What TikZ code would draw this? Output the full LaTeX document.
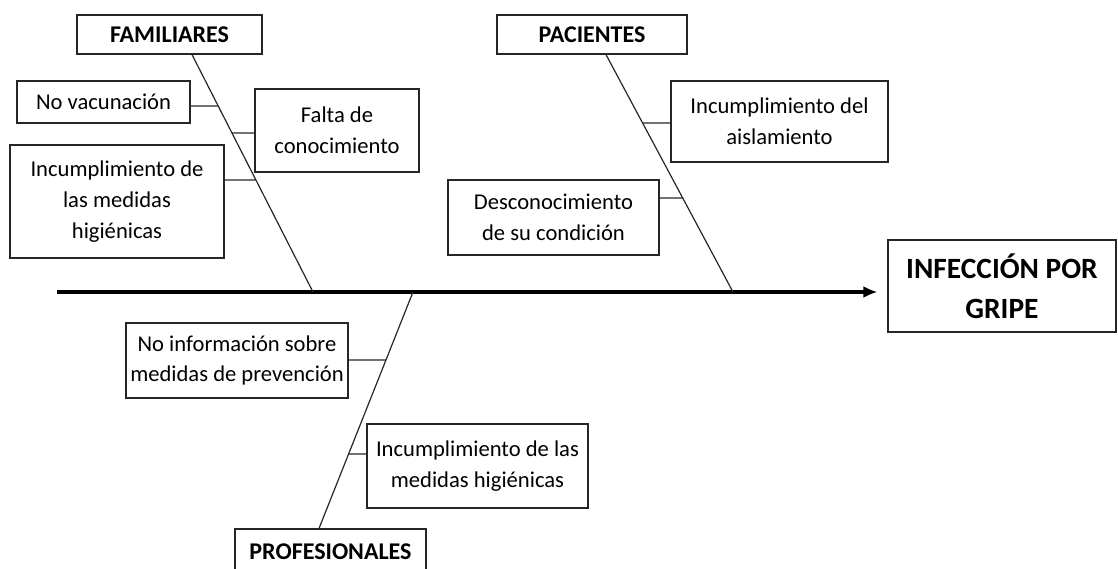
\documentclass[tikz,border=0pt]{standalone}
\usepackage{fontspec}
\setmainfont{Carlito}
\usetikzlibrary{arrows.meta}
\begin{document}
\begin{tikzpicture}[x=0.5pt,y=-0.5pt,
  box/.style={draw=black!85, line width=0.6pt, rectangle, inner sep=0pt, align=center,
    font=\fontsize{11.3}{15.3}\selectfont},
  head/.style={box, font=\bfseries\fontsize{12}{15}\selectfont},
  bone/.style={line width=0.6pt, draw=black!85},
  spine/.style={line width=1.6pt, -{Latex[length=7pt,width=6pt]}}]
\clip (0,0) rectangle (1118,568);
% heads
\node[head, minimum width=92.5pt, minimum height=19.5pt] (fam) at (169.5,34.5) {FAMILIARES};
\node[head, minimum width=95pt, minimum height=19.5pt] (pac) at (592,34.5) {PACIENTES};
\node[head, minimum width=95.5pt, minimum height=23pt] (prof) at (330.5,552) {PROFESIONALES};
\node[box, minimum width=114pt, minimum height=46pt,
  font=\bfseries\fontsize{14.7}{20}\selectfont] (inf) at (1002,286) {INFECCIÓN POR\\GRIPE};
% causes
\node[box, minimum width=86.5pt, minimum height=21pt] (novac) at (103.5,102) {No vacunación};
\node[box, minimum width=82pt, minimum height=41.5pt] (falta) at (337,130.5) {Falta de\\conocimiento};
\node[box, minimum width=107pt, minimum height=56.5pt] (incfam) at (117,201.5) {Incumplimiento de\\las medidas\\higiénicas};
\node[box, minimum width=108.5pt, minimum height=40.5pt] (aisl) at (779.5,121.5) {Incumplimiento del\\aislamiento};
\node[box, minimum width=105.5pt, minimum height=37.5pt] (desc) at (553.5,217.5) {Desconocimiento\\de su condición};
\node[box, minimum width=111pt, minimum height=37.5pt] (noinf) at (237,360.5) {No información sobre\\medidas de prevención};
\node[box, minimum width=110.5pt, minimum height=42pt] (incprof) at (477.5,466) {Incumplimiento de las\\medidas higiénicas};
% spine
\coordinate (tail) at (57,292);
\draw[spine, shorten >=5pt] (tail) -- (tail -| inf.west);
% bones
\coordinate (jf) at (313,292);
\coordinate (jp) at (733,292);
\coordinate (jr) at (413,292);
\coordinate (ft) at ([xshift=11.25pt]fam.south);
\coordinate (pt) at ([xshift=7pt]pac.south);
\coordinate (rt) at ([xshift=-5.75pt]prof.north);
\draw[bone] (ft) -- (jf);
\draw[bone] (pt) -- (jp);
\draw[bone] (rt) -- (jr);
% branches
\draw[bone] (novac.east |- 0,106) -- (intersection of ft--jf and 0,106--10,106);
\draw[bone] (falta.west |- 0,133) -- (intersection of ft--jf and 0,133--10,133);
\draw[bone] (incfam.east |- 0,180) -- (intersection of ft--jf and 0,180--10,180);
\draw[bone] (aisl.west |- 0,123) -- (intersection of pt--jp and 0,123--10,123);
\draw[bone] (desc.east |- 0,198) -- (intersection of pt--jp and 0,198--10,198);
\draw[bone] (noinf.east |- 0,360) -- (intersection of rt--jr and 0,360--10,360);
\draw[bone] (incprof.west |- 0,454) -- (intersection of rt--jr and 0,454--10,454);
\end{tikzpicture}
\end{document}
